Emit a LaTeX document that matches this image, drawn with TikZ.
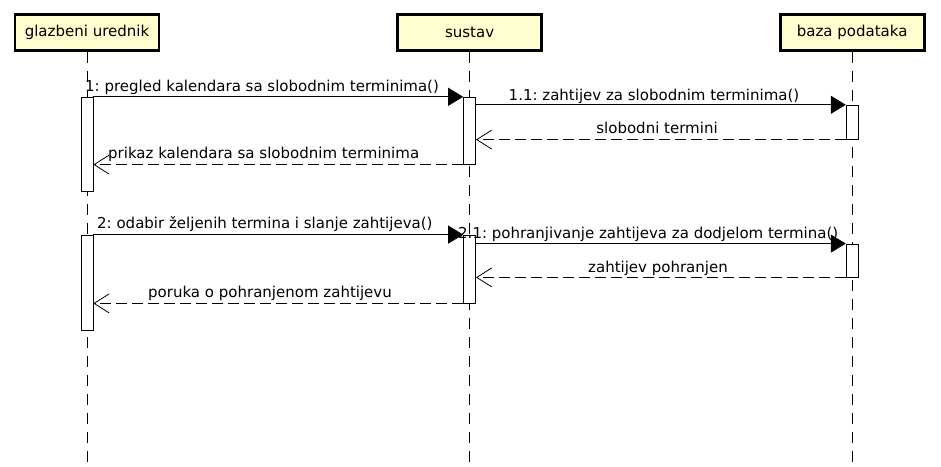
\documentclass[tikz,border=0pt]{standalone}
\usepackage{fontspec}
\setmainfont{DejaVu Sans}
\usetikzlibrary{positioning,arrows.meta}

\definecolor{headfill}{HTML}{FEFECE}
\frenchspacing

\tikzset{
  head/.style={draw, line width=2.6pt, fill=headfill, minimum width=144pt,
    minimum height=36pt, inner sep=0pt, font=\fontsize{15}{17}\selectfont},
  act/.style={draw, fill=white, line width=0.8pt, minimum width=12pt, inner sep=0pt},
  life/.style={line width=0.8pt, dash pattern=on 11pt off 8pt},
  call/.style={line width=0.8pt, -{Triangle[length=15pt,width=18pt]}},
  reply/.style={line width=0.8pt, dash pattern=on 11pt off 5pt,
    -{Straight Barb[length=15pt,width=19pt,line width=0.8pt]}},
  lbl/.style={font=\fontsize{15}{17}\selectfont, inner sep=0pt}
}

\begin{document}
\begin{tikzpicture}[x=1pt, y=-1pt]
  \useasboundingbox (0,0) rectangle (941,466);

  % lifeline heads
  \node[head] (gu) at (87,32.5) {glazbeni urednik};
  \node[head, right=236pt of gu] (su) {sustav};
  \node[head, right=236pt of su] (db) {baza podataka};

  \foreach \h in {gu, su, db}
    \draw[life] (\h.south) -- (\h.south |- 0,466);

  % activations
  \node[act, minimum height=94pt, below=45pt of gu] (a1) {};
  \node[act, minimum height=95pt, below=43pt of a1] (a2) {};
  \node[act, minimum height=67pt, below=45pt of su] (s1) {};
  \node[act, minimum height=68pt, below=70pt of s1] (s2) {};
  \node[act, minimum height=34pt, below=53pt of db] (d1) {};
  \node[act, minimum height=33pt, below=104pt of d1] (d2) {};

  % first request
  \draw[call] (a1.north east) -- (s1.north west);
  \node[lbl, anchor=base west] (m1) at (85,91) {1: pregled kalendara sa slobodnim terminima()};
  \draw[call] (s1.east |- d1.north) -- (d1.north west);
  \node[lbl, anchor=base] (m11) at (654,100) {1.1: zahtijev za slobodnim terminima()};
  \draw[reply] (d1.south west) -- (d1.south west -| s1.east);
  \node[lbl, anchor=base] (r11) at (657,133) {slobodni termini};
  \draw[reply] (s1.south west) -- (s1.south west -| a1.east);
  \node[lbl, anchor=base west] (r1) at (108,158) {prikaz kalendara sa slobodnim terminima};

  % second request
  \draw[call] (a2.north east) -- (s2.north west);
  \node[lbl, anchor=base west] (m2) at (97,228) {2: odabir željenih termina i slanje zahtijeva()};
  \draw[call] (s2.east |- d2.north) -- (d2.north west);
  \node[lbl, anchor=base west] (m21) at (458,238) {2.1: pohranjivanje zahtijeva za dodjelom termina()};
  \draw[reply] (d2.south west) -- (d2.south west -| s2.east);
  \node[lbl, anchor=base] (r21) at (658,272) {zahtijev pohranjen};
  \draw[reply] (s2.south west) -- (s2.south west -| a2.east);
  \node[lbl, anchor=base] (r2) at (270,297) {poruka o pohranjenom zahtijevu};
\end{tikzpicture}
\end{document}
